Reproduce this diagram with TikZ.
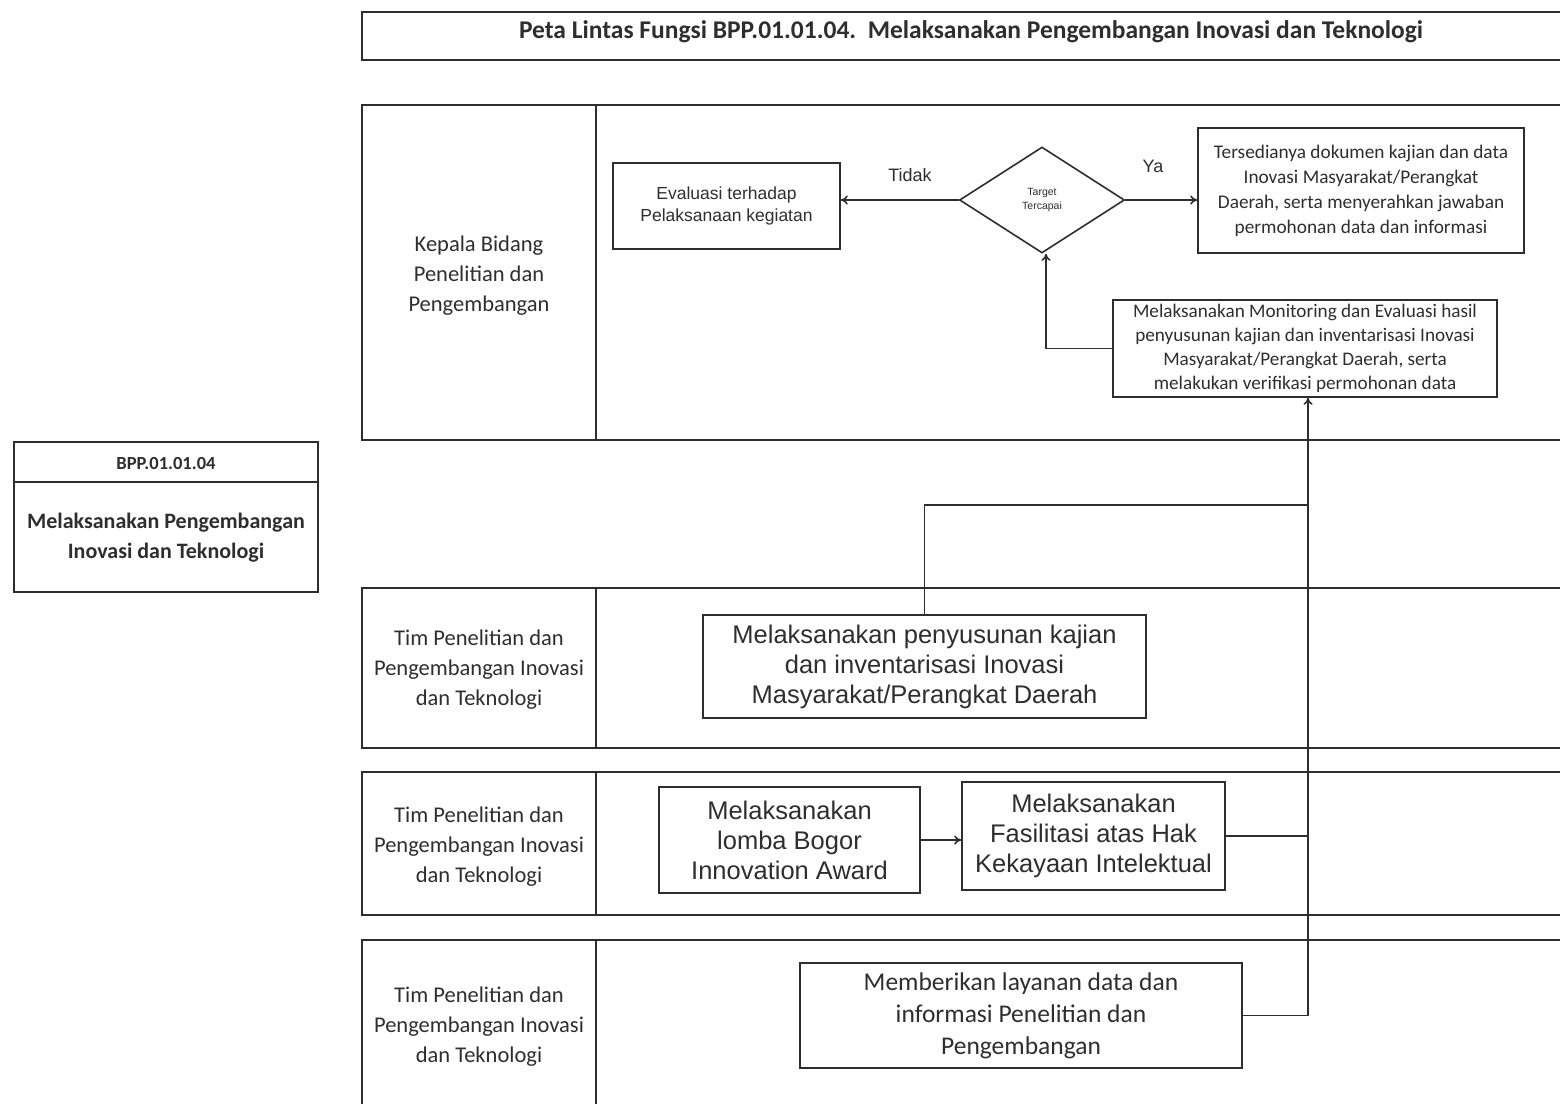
\documentclass[tikz,border=0pt]{standalone}
\usepackage{fontspec}
\setmainfont{Carlito}
\newfontfamily\arialn{Liberation Sans}
\usetikzlibrary{shapes.geometric,arrows.meta}
\definecolor{ink}{HTML}{2E2E2E}
\begin{document}
\begin{tikzpicture}[x=1pt,y=-1pt,line width=1.6pt,
  every node/.style={text=ink},
  lane/.style={draw=ink},
  box/.style={draw=ink,align=center,inner sep=0pt},
  lbl/.style={align=center,font=\fontsize{22.5}{30}\selectfont},
  arr/.style={draw=ink,-{To[length=7pt,width=9pt]}},
  ln/.style={draw=ink}]
\useasboundingbox (0,0) rectangle (1560,1104);
% title
\draw[lane] (1560,12) -- (362,12) -- (362,60) -- (1560,60);
\node[font=\bfseries\fontsize{25.5}{28}\selectfont] (title) at (971,32) {Peta Lintas Fungsi BPP.01.01.04.\ \ Melaksanakan Pengembangan Inovasi dan Teknologi};
% lanes
\draw[lane] (1560,105) -- (362,105) -- (362,440) -- (1560,440);
\draw[lane] (596,105) -- (596,440);
\draw[lane] (1560,588) -- (362,588) -- (362,748) -- (1560,748);
\draw[lane] (596,588) -- (596,748);
\draw[lane] (1560,772) -- (362,772) -- (362,915) -- (1560,915);
\draw[lane] (596,772) -- (596,915);
\draw[lane] (1560,940) -- (362,940) -- (362,1104);
\draw[lane] (596,940) -- (596,1104);
\node[lbl] (l1) at (479,276) {Kepala Bidang\\Penelitian dan\\Pengembangan};
\node[lbl] (l2) at (479,670) {Tim Penelitian dan\\Pengembangan Inovasi\\dan Teknologi};
\node[lbl] (l3) at (479,847) {Tim Penelitian dan\\Pengembangan Inovasi\\dan Teknologi};
\node[lbl] (l4) at (479,1027) {Tim Penelitian dan\\Pengembangan Inovasi\\dan Teknologi};
% left box
\draw[lane] (14,442) rectangle (318,592);
\draw[lane] (14,482) -- (318,482);
\node[font=\bfseries\fontsize{18.5}{20}\selectfont] (code) at (166,463) {BPP.01.01.04};
\node[align=center,font=\bfseries\fontsize{22}{30}\selectfont] (ltitle) at (166,538) {Melaksanakan Pengembangan\\Inovasi dan Teknologi};
% nodes
\node[box,minimum width=227pt,minimum height=86pt,font=\arialn\fontsize{17.5}{22}\selectfont] (eval) at (726.5,206) {Evaluasi terhadap\\Pelaksanaan kegiatan};
\node[draw=ink,diamond,aspect=1.56,minimum width=165pt,minimum height=106pt,inner sep=0pt,align=center,font=\arialn\fontsize{10.5}{14}\selectfont] (dia) at (1042,200) {Target\\Tercapai};
\node[box,minimum width=326pt,minimum height=125pt,font=\fontsize{19.3}{25}\selectfont] (ters) at (1361,190.5) {Tersedianya dokumen kajian dan data\\Inovasi Masyarakat/Perangkat\\Daerah, serta menyerahkan jawaban\\permohonan data dan informasi};
\node[box,minimum width=384pt,minimum height=97pt,font=\fontsize{19.2}{24}\selectfont] (mon) at (1305,348.5) {Melaksanakan Monitoring dan Evaluasi hasil\\penyusunan kajian dan inventarisasi Inovasi\\Masyarakat/Perangkat Daerah, serta\\melakukan verifikasi permohonan data};
\node[box,minimum width=443pt,minimum height=103pt,font=\arialn\fontsize{25.5}{30}\selectfont] (pen) at (924.5,666.5) {Melaksanakan penyusunan kajian\\dan inventarisasi Inovasi\\Masyarakat/Perangkat Daerah};
\node[box,minimum width=261pt,minimum height=106pt,font=\arialn\fontsize{25.5}{30}\selectfont] (lomba) at (789.5,840) {Melaksanakan\\lomba Bogor\\Innovation Award};
\node[box,minimum width=263pt,minimum height=108pt,font=\arialn\fontsize{25.5}{30}\selectfont] (fas) at (1093.5,836) {Melaksanakan\\Fasilitasi atas Hak\\Kekayaan Intelektual};
\node[box,minimum width=442pt,minimum height=105pt,font=\fontsize{25.5}{32}\selectfont] (mem) at (1021,1015.5) {Memberikan layanan data dan\\informasi Penelitian dan\\Pengembangan};
% labels
\node[font=\arialn\fontsize{18}{20}\selectfont] (tidak) at (910,175) {Tidak};
\node[font=\arialn\fontsize{18}{20}\selectfont] (ya) at (1153,166) {Ya};
% connectors
\coordinate (bus) at (1308,1015.5);
\coordinate (j) at (1308,505);
\coordinate (k) at (1046,348.5);
\draw[arr] (dia.west) -- (dia.west -| eval.east);
\draw[arr] (dia.east) -- (dia.east -| ters.west);
\draw[arr] (mon.west) -- (k) -- (k |- dia.south);
\draw[ln] (mem.east) -- (bus);
\draw[ln] (fas.east) -- (fas.east -| bus);
\draw[ln] (pen.north) |- (j);
\draw[arr] (bus) -- (bus |- mon.south);
\draw[arr] (lomba.east) -- (lomba.east -| fas.west);
\end{tikzpicture}
\end{document}
